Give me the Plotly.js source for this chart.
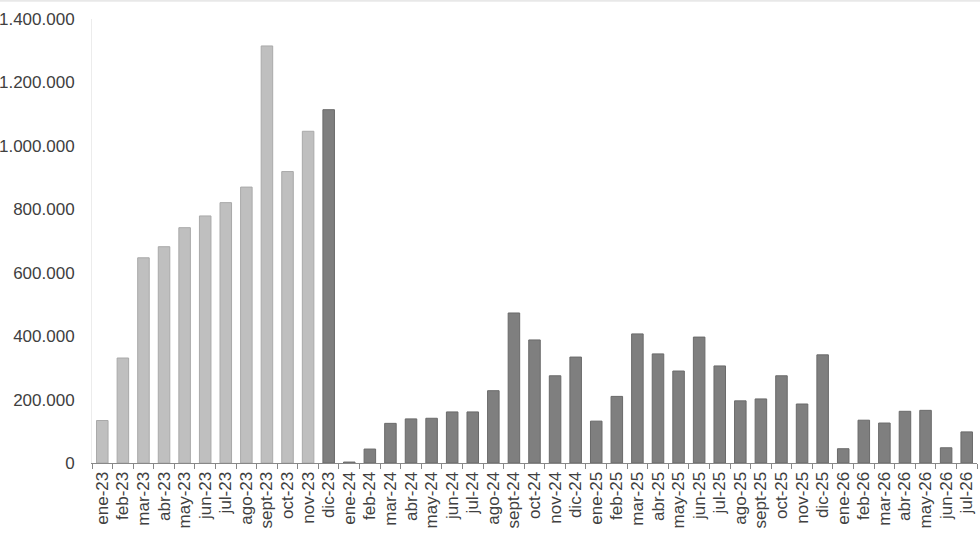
<!DOCTYPE html>
<html>
<head>
<meta charset="utf-8">
<script src="https://cdn.plot.ly/plotly-3.0.1.min.js"></script>
<style>html,body{margin:0;padding:0;background:#fff;}#chart{width:980px;height:539px;}</style>
</head>
<body>
<div id="chart"></div>
<script>
var categories = ["ene-23","feb-23","mar-23","abr-23","may-23","jun-23","jul-23","ago-23","sept-23","oct-23","nov-23","dic-23",
  "ene-24","feb-24","mar-24","abr-24","may-24","jun-24","jul-24","ago-24","sept-24","oct-24","nov-24","dic-24",
  "ene-25","feb-25","mar-25","abr-25","may-25","jun-25","jul-25","ago-25","sept-25","oct-25","nov-25","dic-25",
  "ene-26","feb-26","mar-26","abr-26","may-26","jun-26","jul-26"];
var values = [134000,331000,647000,682000,742000,779000,821000,870000,1315000,919000,1046000,1114000,
  3000,44000,125000,139000,141000,161000,161000,228000,473000,388000,275000,334000,
  132000,210000,407000,344000,290000,397000,306000,196000,202000,275000,186000,341000,
  45000,135000,126000,163000,166000,48000,98000];
var lightCount = 11;

var colors = categories.map(function(c,i){ return i < lightCount ? "#bfbfbf" : "#7f7f7f"; });
var lines = categories.map(function(c,i){ return i < lightCount ? "#a9a9a9" : "#6a6a6a"; });

var trace = {
  type: "bar",
  x: categories,
  y: values,
  marker: {color: colors, line: {color: lines, width: 1}},
  hoverinfo: "x+y"
};

var tf = {family: "Liberation Sans, Arial, sans-serif", size: 17, color: "#404040"};

var layout = {
  width: 980, height: 539,
  margin: {l: 92, r: 3, t: 19, b: 76},
  paper_bgcolor: "#fff", plot_bgcolor: "#fff",
  separators: ",.",
  bargap: 0.44,
  showlegend: false,
  font: tf,
  xaxis: {
    type: "category",
    tickangle: -90,
    tickson: "boundaries",
    ticks: "outside", ticklen: 5, tickcolor: "#888",
    showline: true, linecolor: "#888", linewidth: 1,
    showgrid: false,
    ticklabelstandoff: 1,
    tickfont: tf
  },
  yaxis: {
    range: [0, 1400000],
    dtick: 200000,
    tickformat: ",d",
    showgrid: false,
    zeroline: false,
    showline: true, linecolor: "#ececec", linewidth: 1,
    ticks: "",
    ticklabelstandoff: 13,
    tickfont: tf
  },
  shapes: [{type: "line", xref: "paper", yref: "paper", x0: -1, x1: 1.01, y0: 1.041, y1: 1.041,
            line: {color: "#e8e8e8", width: 2}}]
};

Plotly.newPlot("chart", [trace], layout, {displayModeBar: false, staticPlot: true});
</script>
</body>
</html>
